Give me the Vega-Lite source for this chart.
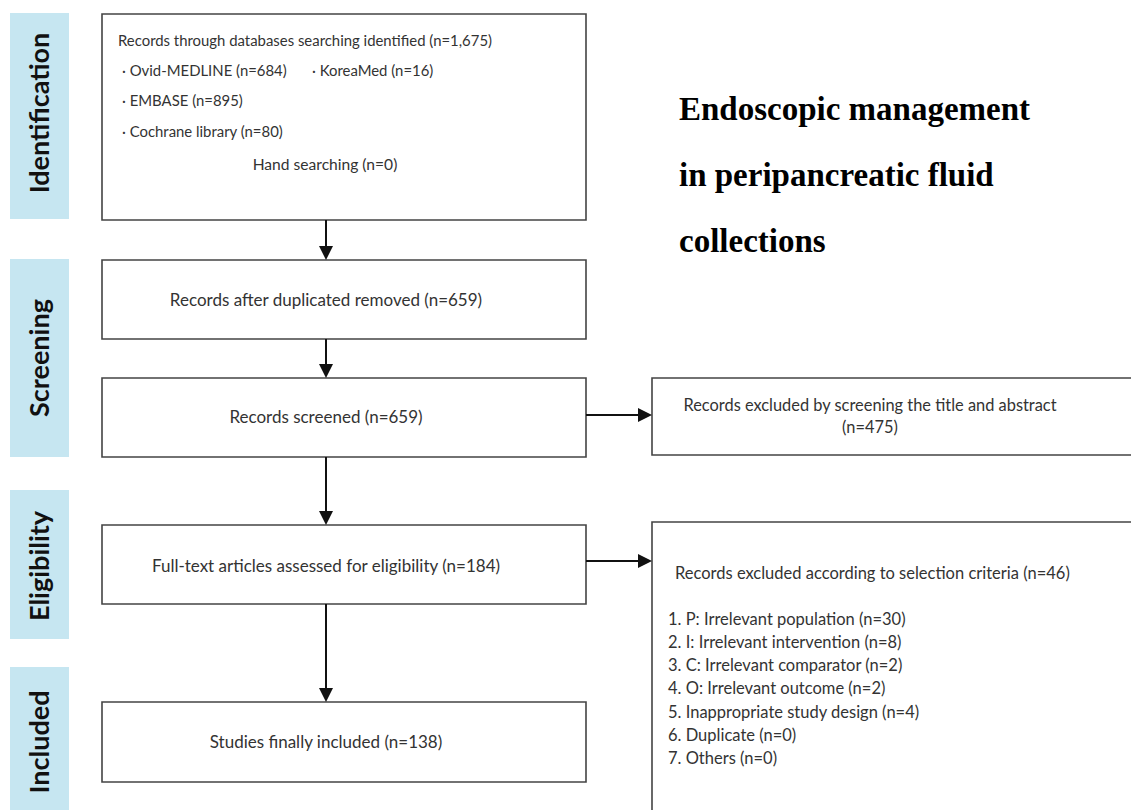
{
  "$schema": "https://vega.github.io/schema/vega-lite/v6.json",
  "width": 1131,
  "height": 810,
  "padding": 0,
  "autosize": {"type": "none"},
  "background": "white",
  "config": {"view": {"stroke": null}},
  "datasets": {
    "bands": [
      {"stage": "Identification", "x0": 10, "x1": 69, "y0": 13, "y1": 219, "cx": 41, "cy": 113},
      {"stage": "Screening", "x0": 10, "x1": 69, "y0": 259, "y1": 457, "cx": 41, "cy": 358},
      {"stage": "Eligibility", "x0": 10, "x1": 69, "y0": 490, "y1": 639, "cx": 41, "cy": 566},
      {"stage": "Included", "x0": 10, "x1": 69, "y0": 667, "y1": 830, "cx": 41, "cy": 742}
    ],
    "boxes": [
      {"box": "identified", "x0": 102, "x1": 586, "y0": 14, "y1": 220},
      {"box": "deduplicated", "x0": 102, "x1": 586, "y0": 260, "y1": 339},
      {"box": "screened", "x0": 102, "x1": 586, "y0": 378, "y1": 457},
      {"box": "fulltext", "x0": 102, "x1": 586, "y0": 525, "y1": 604},
      {"box": "included", "x0": 102, "x1": 586, "y0": 702, "y1": 782},
      {"box": "excluded1", "x0": 652, "x1": 1150, "y0": 378, "y1": 455},
      {"box": "excluded2", "x0": 652, "x1": 1150, "y0": 522, "y1": 840}
    ],
    "links": [
      {"x0": 326, "y0": 220, "x1": 326, "y1": 250},
      {"x0": 326, "y0": 339, "x1": 326, "y1": 370},
      {"x0": 326, "y0": 457, "x1": 326, "y1": 517},
      {"x0": 326, "y0": 604, "x1": 326, "y1": 694},
      {"x0": 586, "y0": 415, "x1": 644, "y1": 415},
      {"x0": 586, "y0": 561, "x1": 644, "y1": 561}
    ],
    "heads": [
      {"x": 326, "y": 260, "dir": "down"},
      {"x": 326, "y": 378, "dir": "down"},
      {"x": 326, "y": 525, "dir": "down"},
      {"x": 326, "y": 702, "dir": "down"},
      {"x": 652, "y": 415, "dir": "right"},
      {"x": 652, "y": 561, "dir": "right"}
    ],
    "mainText": [
      {"text": "Records after duplicated removed (n=659)", "x": 326, "y": 301},
      {"text": "Records screened (n=659)", "x": 326, "y": 418},
      {"text": "Full-text articles assessed for eligibility (n=184)", "x": 326, "y": 567},
      {"text": "Studies finally included (n=138)", "x": 326, "y": 743}
    ],
    "handText": [
      {"text": "Hand searching  (n=0)", "x": 325, "y": 165}
    ],
    "excl1Text": [
      {"text": "Records excluded by screening the title and abstract", "x": 870, "y": 406},
      {"text": "(n=475)", "x": 870, "y": 428}
    ],
    "sourceText": [
      {"text": "Records through databases searching identified (n=1,675)", "x": 118, "y": 42},
      {"text": "· Ovid-MEDLINE (n=684)", "x": 122, "y": 72},
      {"text": "· KoreaMed (n=16)", "x": 312, "y": 72},
      {"text": "· EMBASE (n=895)", "x": 122, "y": 102},
      {"text": "· Cochrane library (n=80)", "x": 122, "y": 133}
    ],
    "excl2Text": [
      {"text": "Records excluded according to selection criteria (n=46)", "x": 675, "y": 574},
      {"text": "1. P: Irrelevant population (n=30)", "x": 668, "y": 620},
      {"text": "2. I: Irrelevant intervention (n=8)", "x": 668, "y": 643},
      {"text": "3. C: Irrelevant comparator (n=2)", "x": 668, "y": 666},
      {"text": "4. O: Irrelevant outcome (n=2)", "x": 668, "y": 689},
      {"text": "5. Inappropriate study design (n=4)", "x": 668, "y": 713},
      {"text": "6. Duplicate (n=0)", "x": 668, "y": 736},
      {"text": "7. Others (n=0)", "x": 668, "y": 759}
    ],
    "title": [
      {"text": "Endoscopic management", "x": 679, "y": 110},
      {"text": "in peripancreatic fluid", "x": 679, "y": 176},
      {"text": "collections", "x": 679, "y": 242}
    ]
  },
  "encoding": {},
  "layer": [
    {
      "data": {"name": "bands"},
      "mark": {"type": "rect", "fill": "#c6e6f1", "clip": true},
      "encoding": {
        "x": {"field": "x0", "type": "quantitative", "scale": {"domain": [0, 1131], "nice": false, "zero": false}, "axis": null},
        "x2": {"field": "x1"},
        "y": {"field": "y0", "type": "quantitative", "scale": {"domain": [0, 810], "nice": false, "zero": false, "reverse": true}, "axis": null},
        "y2": {"field": "y1"}
      }
    },
    {
      "data": {"name": "bands"},
      "mark": {"type": "text", "angle": 270, "font": "Lato", "fontWeight": "bold", "fontSize": 27, "letterSpacing": 0.8, "color": "#111", "align": "center", "baseline": "middle"},
      "encoding": {
        "x": {"field": "cx", "type": "quantitative"},
        "y": {"field": "cy", "type": "quantitative"},
        "text": {"field": "stage"}
      }
    },
    {
      "data": {"name": "boxes"},
      "mark": {"type": "rect", "fill": "white", "stroke": "#444", "strokeWidth": 1.6, "clip": true},
      "encoding": {
        "x": {"field": "x0", "type": "quantitative"},
        "x2": {"field": "x1"},
        "y": {"field": "y0", "type": "quantitative"},
        "y2": {"field": "y1"}
      }
    },
    {
      "data": {"name": "links"},
      "mark": {"type": "rule", "color": "#111", "strokeWidth": 2},
      "encoding": {
        "x": {"field": "x0", "type": "quantitative"},
        "x2": {"field": "x1"},
        "y": {"field": "y0", "type": "quantitative"},
        "y2": {"field": "y1"}
      }
    },
    {
      "data": {"name": "heads"},
      "transform": [{"filter": "datum.dir === 'down'"}],
      "mark": {"type": "point", "shape": "M0,0L-0.5,-1L0.5,-1Z", "filled": true, "color": "#111", "opacity": 1, "size": 784},
      "encoding": {
        "x": {"field": "x", "type": "quantitative"},
        "y": {"field": "y", "type": "quantitative"}
      }
    },
    {
      "data": {"name": "heads"},
      "transform": [{"filter": "datum.dir === 'right'"}],
      "mark": {"type": "point", "shape": "M0,0L-1,-0.5L-1,0.5Z", "filled": true, "color": "#111", "opacity": 1, "size": 784},
      "encoding": {
        "x": {"field": "x", "type": "quantitative"},
        "y": {"field": "y", "type": "quantitative"}
      }
    },
    {
      "data": {"name": "mainText"},
      "mark": {"type": "text", "font": "Lato", "fontSize": 17, "color": "#333", "align": "center", "baseline": "middle"},
      "encoding": {
        "x": {"field": "x", "type": "quantitative"},
        "y": {"field": "y", "type": "quantitative"},
        "text": {"field": "text"}
      }
    },
    {
      "data": {"name": "handText"},
      "mark": {"type": "text", "font": "Lato", "fontSize": 15.6, "color": "#333", "align": "center", "baseline": "middle"},
      "encoding": {
        "x": {"field": "x", "type": "quantitative"},
        "y": {"field": "y", "type": "quantitative"},
        "text": {"field": "text"}
      }
    },
    {
      "data": {"name": "excl1Text"},
      "mark": {"type": "text", "font": "Lato", "fontSize": 16.4, "color": "#333", "align": "center", "baseline": "middle"},
      "encoding": {
        "x": {"field": "x", "type": "quantitative"},
        "y": {"field": "y", "type": "quantitative"},
        "text": {"field": "text"}
      }
    },
    {
      "data": {"name": "sourceText"},
      "mark": {"type": "text", "font": "Lato", "fontSize": 14.9, "color": "#333", "align": "left", "baseline": "middle"},
      "encoding": {
        "x": {"field": "x", "type": "quantitative"},
        "y": {"field": "y", "type": "quantitative"},
        "text": {"field": "text"}
      }
    },
    {
      "data": {"name": "excl2Text"},
      "mark": {"type": "text", "font": "Lato", "fontSize": 16.5, "color": "#333", "align": "left", "baseline": "middle"},
      "encoding": {
        "x": {"field": "x", "type": "quantitative"},
        "y": {"field": "y", "type": "quantitative"},
        "text": {"field": "text"}
      }
    },
    {
      "data": {"name": "title"},
      "mark": {"type": "text", "font": "Liberation Serif", "fontWeight": "bold", "fontSize": 33, "color": "#000", "align": "left", "baseline": "middle"},
      "encoding": {
        "x": {"field": "x", "type": "quantitative"},
        "y": {"field": "y", "type": "quantitative"},
        "text": {"field": "text"}
      }
    }
  ]
}
